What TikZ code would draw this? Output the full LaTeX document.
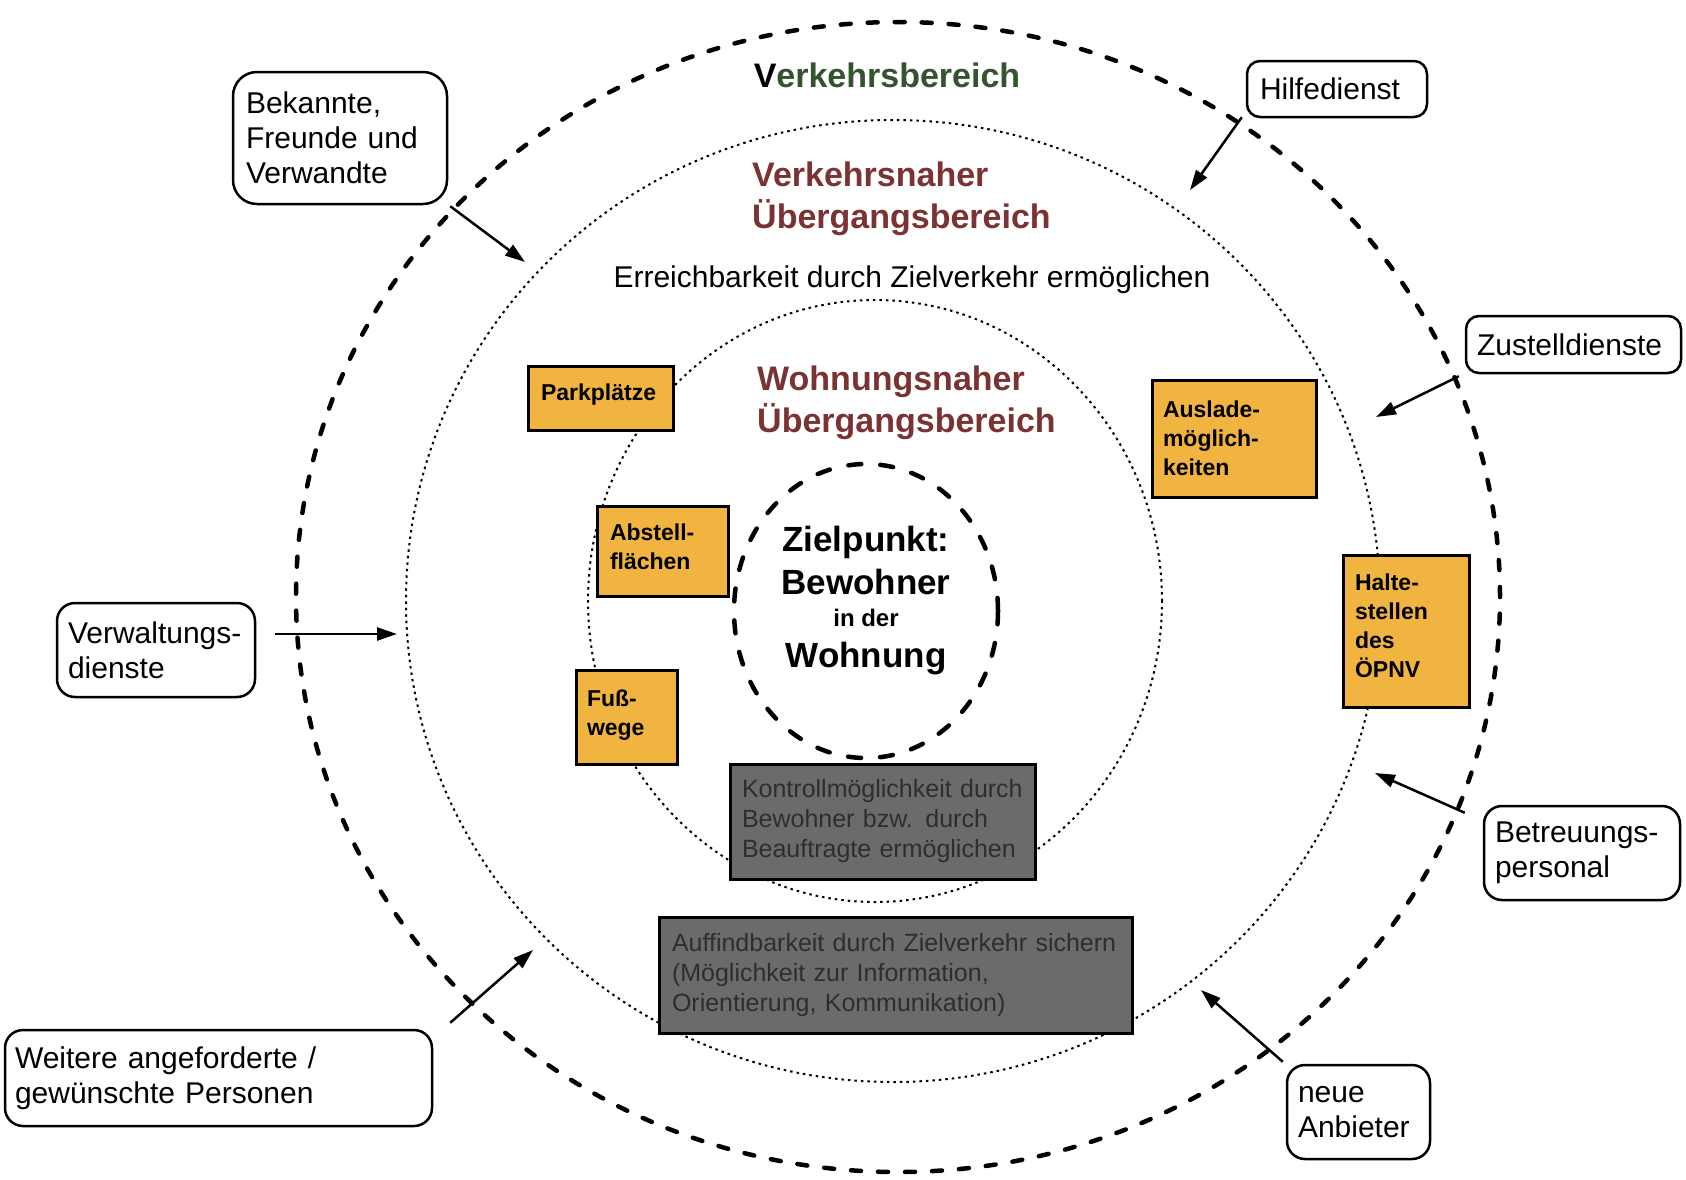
\documentclass[tikz,border=0pt]{standalone}
\usepackage{fontspec}
\setmainfont{Liberation Sans}
\usetikzlibrary{arrows.meta}
\definecolor{orangebox}{HTML}{F2B441}
\definecolor{titlered}{HTML}{7A3232}
\definecolor{titlegreen}{HTML}{35532F}
\definecolor{graybox}{HTML}{6B6B6B}
\definecolor{graytext}{HTML}{2E2E2E}
\begin{document}
\begin{tikzpicture}[x=1pt,y=-1pt,
  nohyph/.style={execute at begin node={\hyphenpenalty=10000\exhyphenpenalty=10000}},
  rbox/.style={draw, fill=white, line width=2.5pt, rounded corners=18pt, align=left,
    font=\fontsize{30}{35}\selectfont, inner ysep=0pt, nohyph},
  obox/.style={draw, fill=orangebox, line width=3pt, align=left,
    font=\bfseries\fontsize{23}{29}\selectfont, inner ysep=0pt, nohyph},
  gbox/.style={draw, fill=graybox, line width=3pt, align=left, text=graytext,
    font=\fontsize{25}{30}\selectfont, inner ysep=0pt, nohyph},
  arr/.style={line width=2.5pt, -{Triangle[length=20pt,width=13pt]}},
  outerring/.style={line width=4.5pt, line cap=round, dash pattern=on 10pt off 17pt},
  coring/.style={line width=4.5pt, line cap=round, dash pattern=on 13pt off 19pt},
  dotring/.style={line width=2pt, dash pattern=on 2.5pt off 4pt},
  title/.style={font=\bfseries\fontsize{34}{42}\selectfont, inner sep=0pt, align=left},
  zt/.style={font=\bfseries\fontsize{35}{38}\selectfont, inner sep=0pt, anchor=base}
]
\fill[white] (0,0) rectangle (1686,1179);
\useasboundingbox (0,0) rectangle (1686,1179);

% rings
\draw[outerring] (898,597) ellipse [x radius=602pt, y radius=575pt];
\draw[dotring] (893,601) ellipse [x radius=487pt, y radius=481pt];
\draw[dotring] (875,601) ellipse [x radius=287pt, y radius=301pt];
\draw[coring] (866,611) ellipse [x radius=132pt, y radius=147pt];

% titles
\node[title, text=titlegreen] (tverk) at (887,75) {{\color{black}V}erkehrsbereich};
\node[title, text=titlered, anchor=west] (tvn) at (752,199) {Verkehrsnaher\\Übergangsbereich};
\node[font=\fontsize{30}{35}\selectfont, inner sep=0pt] (terr) at (912,280) {Erreichbarkeit durch Zielverkehr ermöglichen};
\node[title, text=titlered, anchor=west] (twn) at (757,403) {Wohnungsnaher\\Übergangsbereich};

% Zielpunkt
\node[zt] (z1) at (866,551) {Zielpunkt:};
\node[zt] (z2) at (866,594) {Bewohner};
\node[zt, font=\bfseries\fontsize{24}{28}\selectfont] (z3) at (866,626) {in der};
\node[zt] (z4) at (866,667) {Wohnung};

% orange boxes
\node[obox, text width=119pt, inner xsep=13pt, minimum height=64pt, text depth=11pt] (park) at (600.5,398) {Parkplätze};
\node[obox, text width=105pt, inner xsep=13pt, minimum height=90pt, text depth=38pt] (abst) at (662.5,551) {Abstell-\\flächen};
\node[obox, text width=79pt, inner xsep=11pt, minimum height=94pt, text depth=38pt] (fuss) at (626.5,717) {Fuß-\\wege};
\node[obox, text width=142pt, inner xsep=11pt, minimum height=117pt] (ausl) at (1234,438.5) {Auslade-\\möglich-\\keiten};
\node[obox, text width=102pt, inner xsep=12pt, minimum height=152pt, text depth=98pt] (halt) at (1406,631) {Halte-\\stellen\\des\\ÖPNV};

% gray boxes
\node[gbox, text width=281pt, inner xsep=12pt, minimum height=115pt] (kont) at (882.5,821.5) {Kontrollmöglichkeit durch\\Bewohner bzw. durch\\Beauftragte ermöglichen};
\node[gbox, text width=447pt, inner xsep=13pt, minimum height=116pt] (auff) at (895.5,975) {Auffindbarkeit durch Zielverkehr sichern\\(Möglichkeit zur Information,\\Orientierung, Kommunikation)};

% actor boxes
\node[rbox, rounded corners=24pt, text width=188pt, inner xsep=13pt, minimum height=132pt] (bek) at (340,138) {Bekannte,\\Freunde und\\Verwandte};
\node[rbox, rounded corners=13pt, text width=154pt, inner xsep=13pt, minimum height=56pt] (hilf) at (1337,89) {Hilfedienst};
\node[rbox, rounded corners=13pt, text width=193pt, inner xsep=11pt, minimum height=57pt] (zust) at (1573.5,344.5) {Zustelldienste};
\node[rbox, text width=176pt, inner xsep=11pt, minimum height=94pt] (verw) at (156,650) {Verwaltungs-\\dienste};
\node[rbox, text width=407pt, inner xsep=10pt, minimum height=96pt] (weit) at (218.5,1078) {Weitere angeforderte /\\gewünschte Personen};
\node[rbox, text width=174pt, inner xsep=11pt, minimum height=94pt] (betr) at (1582,853) {Betreuungs-\\personal};
\node[rbox, text width=121pt, inner xsep=11pt, minimum height=94pt] (neue) at (1358.5,1112) {neue\\Anbieter};

% arrow targets
\coordinate (e1) at (525,262);
\coordinate (e2) at (1190,190);
\coordinate (e3) at (1376,417);
\coordinate (e4) at (397,634);
\coordinate (e5) at (1375,773);
\coordinate (e6) at (1201,990);
\coordinate (e7) at (533,950);

\draw[arr] ([xshift=2pt,yshift=-1pt]bek.south east) -- (e1);
\draw[arr] ([xshift=-4pt,yshift=1pt]hilf.south west) -- (e2);
\draw[arr] ([xshift=-6pt,yshift=-2pt]zust.south west) -- (e3);
\draw[arr] ([xshift=19pt,yshift=16pt]verw.east) -- (e4);
\draw[arr] ([xshift=-18pt,yshift=-8pt]betr.north west) -- (e5);
\draw[arr] ([xshift=-3pt,yshift=2pt]neue.north west) -- (e6);
\draw[arr] ([xshift=17pt,yshift=6pt]weit.north east) -- (e7);
\end{tikzpicture}
\end{document}
